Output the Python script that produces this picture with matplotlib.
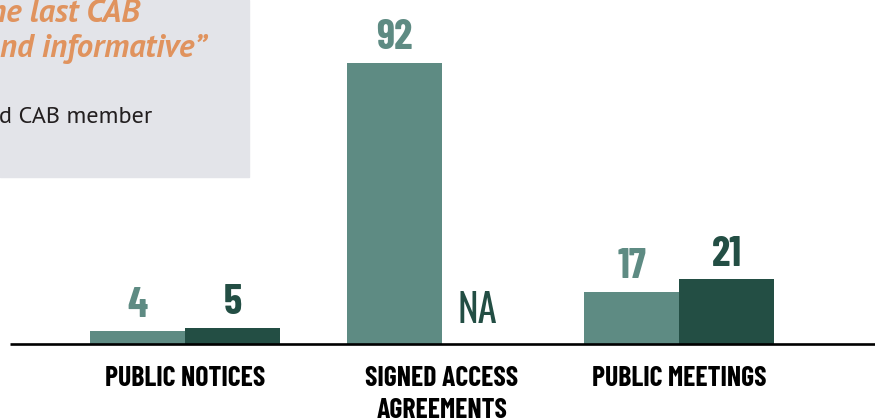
import os
import matplotlib
matplotlib.use("Agg")
import matplotlib.pyplot as plt
from matplotlib import font_manager as fm
from matplotlib.patches import Rectangle

# ---- data ----
categories = ["PUBLIC NOTICES", "SIGNED ACCESS\nAGREEMENTS", "PUBLIC MEETINGS"]
series_a = [4, 92, 17]        # light teal series
series_b = [5, None, 21]      # dark green series (None = NA)
na_label = "NA"
quote_lines = ["he last CAB", "nd informative\u201d"]
attribution = "d CAB member"

# ---- fonts: pick static files of the wanted weight ----
def _w(v):
    if isinstance(v, (int, float)):
        return int(v)
    return {"light": 300, "normal": 400, "regular": 400, "medium": 500,
            "semibold": 600, "demibold": 600, "bold": 700, "heavy": 800,
            "extra bold": 800, "black": 900}.get(str(v).lower(), 400)

def pick(cands, weight, italic=False, size=10):
    for c in cands:
        ents = [f for f in fm.fontManager.ttflist if f.name == c
                and ((f.style != "normal") == italic)]
        if not ents:
            continue
        ents.sort(key=lambda f: (abs(_w(f.weight) - weight),
                                 "[" in os.path.basename(f.fname)))
        best = ents[0]
        if abs(_w(best.weight) - weight) <= 100:
            return fm.FontProperties(fname=best.fname, size=size)
    return fm.FontProperties(family="DejaVu Sans", size=size,
                             weight="bold" if weight >= 600 else "normal",
                             style="italic" if italic else "normal")

COND = ["Oswald", "Fjalla One", "Barlow Condensed", "Roboto Condensed",
        "PT Sans Narrow", "Archivo Narrow", "Fira Sans Condensed",
        "Liberation Sans Narrow"]
MYR = ["Source Sans Pro", "Source Sans 3", "PT Sans", "Open Sans", "Lato"]

fp_num = pick(COND, 700, size=30)
fp_na = pick(COND, 400, size=28)
fp_cat = pick(COND, 700, size=20)
fp_quote = pick(MYR, 700, italic=True, size=23.5)
fp_attr = pick(MYR, 400, size=17.5)

LIGHT = "#5e8b83"
DARK = "#234e44"
W, H = 875, 418

fig = plt.figure(figsize=(8.75, 4.18), dpi=100)
base_px = 74.5           # baseline height above figure bottom (px)
scale = 3.05             # px per unit
ax = fig.add_axes([0, base_px / H, 1, 1 - base_px / H])
ax.set_xlim(0, W)
ax.set_ylim(0, (H - base_px) / scale)
ax.axis("off")

# layout (pixels)
centers = [185, 442, 679]
bw = 95

for i, c in enumerate(centers):
    a = series_a[i]
    ax.bar(c - bw / 2, a, width=bw, color=LIGHT, zorder=2)
    ax.annotate(str(a), (c - bw / 2, a), xytext=(0, 10), textcoords="offset points",
                ha="center", va="baseline", fontproperties=fp_num, color=LIGHT)
    b = series_b[i]
    if b is not None:
        ax.bar(c + bw / 2, b, width=bw, color=DARK, zorder=2)
        ax.annotate(str(b), (c + bw / 2, b), xytext=(0, 10), textcoords="offset points",
                    ha="center", va="baseline", fontproperties=fp_num, color=DARK)
    else:
        ax.annotate(na_label, (c + 35, 0), xytext=(0, 15), textcoords="offset points",
                    ha="center", va="baseline", fontproperties=fp_na, color=DARK)
    ax.annotate(categories[i], (c, 0), xytext=(0, -16), textcoords="offset points",
                ha="center", va="top", fontproperties=fp_cat, color="black",
                linespacing=1.35, annotation_clip=False)

# baseline
ax.plot([10, W], [0, 0], color="black", lw=1.9, zorder=3, clip_on=False,
        solid_capstyle="butt")

# quote box
fig.patches.append(Rectangle((0, 1 - 177 / H), 249 / W, 177 / H,
                             transform=fig.transFigure, color="#e3e4e9", zorder=0))
fig.text(140 / W, 1 - 22 / H, quote_lines[0], ha="right", va="baseline",
         fontproperties=fp_quote, color="#e0935e")
fig.text(207 / W, 1 - 57 / H, quote_lines[1], ha="right", va="baseline",
         fontproperties=fp_quote, color="#e0935e")
fig.text(152 / W, 1 - 123 / H, attribution, ha="right", va="baseline",
         fontproperties=fp_attr, color="#231f20")

fig.savefig("out.png", dpi=100)
